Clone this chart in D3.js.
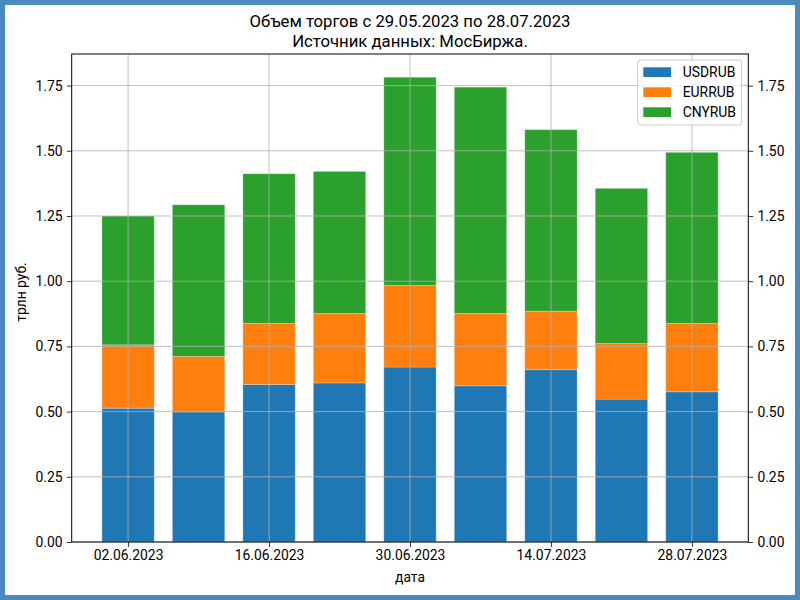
<!DOCTYPE html>
<html>
<head>
<meta charset="utf-8">
<script src="https://cdn.jsdelivr.net/npm/d3@7/dist/d3.min.js"></script>
<style>
  html, body { margin: 0; padding: 0; background: #fff; }
  svg { display: block; font-family: Roboto, "DejaVu Sans", sans-serif; }
</style>
</head>
<body>
<svg id="chart" width="800" height="600"></svg>
<script>
// ---- data ----
const dates = ["02.06.2023","09.06.2023","16.06.2023","23.06.2023","30.06.2023","07.07.2023","14.07.2023","21.07.2023","28.07.2023"];
const usdrub = [0.513, 0.499, 0.604, 0.610, 0.671, 0.599, 0.661, 0.548, 0.576];
const eurrub = [0.243, 0.213, 0.234, 0.266, 0.313, 0.277, 0.224, 0.213, 0.262];
const cnyrub = [0.494, 0.581, 0.574, 0.545, 0.798, 0.868, 0.696, 0.595, 0.656];
const seriesNames = ["USDRUB", "EURRUB", "CNYRUB"];
const seriesColors = ["#1f77b4", "#ff7f0e", "#2ca02c"];
const xTickLabels = ["02.06.2023","16.06.2023","30.06.2023","14.07.2023","28.07.2023"];
const yTicks = [0, 0.25, 0.5, 0.75, 1.0, 1.25, 1.5, 1.75];
const titleLines = ["Объем торгов с 29.05.2023 по 28.07.2023", "Источник данных: МосБиржа."];
const xLabel = "дата";
const yLabel = "трлн руб.";

// ---- layout ----
const W = 800, H = 600;
const plot = { left: 71.7, right: 748.3, top: 54, bottom: 542 };
const svg = d3.select("#chart");
const parse = d3.utcParse("%d.%m.%Y");
const fmtDate = d3.utcFormat("%d.%m.%Y");
const DAY = 86400000;
const barDays = 5.2;
const padDays = 5.6;

const rows = dates.map((d, i) => ({ date: parse(d), USDRUB: usdrub[i], EURRUB: eurrub[i], CNYRUB: cnyrub[i] }));
const stack = d3.stack().keys(seriesNames)(rows);
const maxTotal = d3.max(rows, r => r.USDRUB + r.EURRUB + r.CNYRUB);

const x = d3.scaleUtc()
  .domain([new Date(+d3.min(rows, r => r.date) - padDays * DAY), new Date(+d3.max(rows, r => r.date) + padDays * DAY)])
  .range([plot.left, plot.right]);
const y = d3.scaleLinear().domain([0, maxTotal * 1.05]).range([plot.bottom, plot.top]);
const color = d3.scaleOrdinal().domain(seriesNames).range(seriesColors);

// background
svg.append("rect").attr("x", 0).attr("y", 0).attr("width", W).attr("height", H).attr("fill", "#fff");

// bars
const barW = x(new Date(barDays * DAY)) - x(new Date(0));
svg.append("g").selectAll("g").data(stack).join("g")
  .attr("fill", d => color(d.key))
  .selectAll("rect").data(d => d).join("rect")
  .attr("x", d => x(d.data.date) - barW / 2)
  .attr("width", barW)
  .attr("y", d => y(d[1]))
  .attr("height", d => y(d[0]) - y(d[1]))
  .attr("stroke", "#ffffff").attr("stroke-opacity", 0.25).attr("stroke-width", 1);

// grid (above bars)
const tickDates = xTickLabels.map(parse);
const grid = svg.append("g").attr("stroke", "#b0b0b0").attr("stroke-width", 0.8);
grid.selectAll("line.h").data(yTicks).join("line").attr("class", "h")
  .attr("x1", plot.left).attr("x2", plot.right)
  .attr("y1", d => y(d)).attr("y2", d => y(d));
grid.selectAll("line.v").data(tickDates).join("line").attr("class", "v")
  .attr("y1", plot.top).attr("y2", plot.bottom)
  .attr("x1", d => x(d)).attr("x2", d => x(d));

// axes
const fmtY = d3.format(".2f");
const axisStyle = g => {
  g.selectAll("text").attr("font-size", 13.9).attr("fill", "#000").attr("font-family", "Roboto");
  g.selectAll("line").attr("stroke", "#000").attr("stroke-width", 0.8);
  g.select(".domain").remove();
};
svg.append("g").attr("transform", `translate(${plot.left},0)`)
  .call(d3.axisLeft(y).tickValues(yTicks).tickFormat(fmtY).tickSize(4.9).tickPadding(4.2))
  .call(axisStyle);
svg.append("g").attr("transform", `translate(${plot.right},0)`)
  .call(d3.axisRight(y).tickValues(yTicks).tickFormat(fmtY).tickSize(4.9).tickPadding(4.2))
  .call(axisStyle);
svg.append("g").attr("transform", `translate(0,${plot.bottom})`)
  .call(d3.axisBottom(x).tickValues(tickDates).tickFormat(fmtDate).tickSize(4.9).tickPadding(3.5))
  .call(axisStyle);

// spines
svg.append("rect").attr("x", plot.left).attr("y", plot.top)
  .attr("width", plot.right - plot.left).attr("height", plot.bottom - plot.top)
  .attr("fill", "none").attr("stroke", "#000").attr("stroke-width", 1);

// title
svg.append("text").attr("x", (plot.left + plot.right) / 2).attr("text-anchor", "middle")
  .attr("font-size", 16.7).attr("fill", "#000")
  .selectAll("tspan").data(titleLines).join("tspan")
  .attr("x", (plot.left + plot.right) / 2)
  .attr("y", (d, i) => 27 + i * 19.5)
  .text(d => d);

// axis labels
svg.append("text").attr("x", (plot.left + plot.right) / 2).attr("y", 582)
  .attr("text-anchor", "middle").attr("font-size", 13.9).text(xLabel);
svg.append("text").attr("transform", `translate(26,292) rotate(-90)`)
  .attr("text-anchor", "middle").attr("font-size", 13.9).text(yLabel);

// legend
const lg = svg.append("g").attr("transform", "translate(637.7,60)");
lg.append("rect").attr("width", 104).attr("height", 65).attr("rx", 3)
  .attr("fill", "#fff").attr("fill-opacity", 0.8).attr("stroke", "#cccccc").attr("stroke-width", 1);
const items = lg.selectAll("g.item").data(seriesNames).join("g").attr("class", "item")
  .attr("transform", (d, i) => `translate(0,${7.3 + i * 20})`);
items.append("rect").attr("x", 5.6).attr("width", 27.8).attr("height", 9.7).attr("fill", d => color(d));
items.append("text").attr("x", 45).attr("y", 5).attr("dy", "0.35em")
  .attr("font-size", 13.9).text(d => d);

// frame
svg.append("rect").attr("x", 2.5).attr("y", 2.5).attr("width", W - 5).attr("height", H - 5)
  .attr("fill", "none").attr("stroke", "#4a8bbd").attr("stroke-width", 5);
</script>
</body>
</html>
